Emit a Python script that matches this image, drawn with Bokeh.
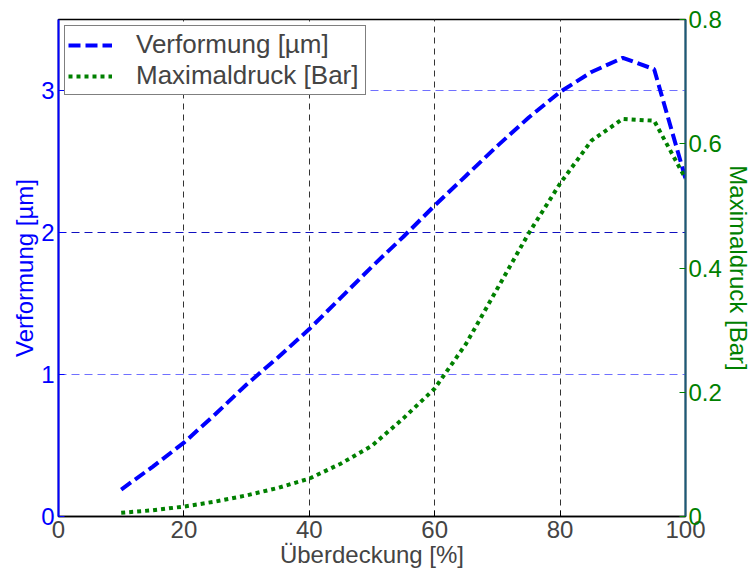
import math
from bokeh.plotting import figure
from bokeh.models import (Range1d, LinearAxis, FixedTicker, Grid, Legend, LegendItem)
from bokeh.embed import file_html
from bokeh.resources import INLINE

# Überdeckung in percent
ueberdeckung = [10, 15, 20, 25, 30, 35, 40, 45, 50, 55, 60, 65, 70, 75, 80, 85, 90, 95, 100]
# deformation in micrometres (left axis)
verformung = [0.19, 0.35, 0.52, 0.72, 0.93, 1.12, 1.32, 1.54, 1.76, 1.97, 2.19,
              2.40, 2.61, 2.81, 2.99, 3.13, 3.23, 3.15, 2.38]
# peak pressure in bar (right axis)
maximaldruck = [0.006, 0.010, 0.016, 0.024, 0.034, 0.046, 0.061, 0.085, 0.114, 0.158,
                0.206, 0.278, 0.367, 0.456, 0.536, 0.605, 0.640, 0.637, 0.544]

x_ticks = [0, 20, 40, 60, 80, 100]
left_ticks = [0, 1, 2, 3]
right_ticks = [0, 0.2, 0.4, 0.6, 0.8]

FONT = "Liberation Sans"
BLUE = "#0000ff"
GREEN = "#008000"

p = figure(width=754, height=573, output_backend="svg", toolbar_location=None,
           x_range=Range1d(0, 100), y_range=Range1d(0, 3.5),
           min_border_left=58, min_border_right=69, min_border_top=19, min_border_bottom=57)
p.extra_y_ranges = {"druck": Range1d(0, 0.8)}
p.outline_line_color = "black"
p.outline_line_width = 1.5
p.background_fill_color = "white"

# grids
p.xgrid.ticker = FixedTicker(ticks=[20, 40, 60, 80])
p.xgrid.grid_line_color = "#333333"
p.xgrid.grid_line_dash = "6 5"
p.xgrid.grid_line_width = 1
p.ygrid.ticker = FixedTicker(ticks=[1, 3])
p.ygrid.grid_line_color = "#7070ff"
p.ygrid.grid_line_dash = "8 5"
p.ygrid.grid_line_width = 1.2
p.add_layout(Grid(dimension=1, ticker=FixedTicker(ticks=[2]), grid_line_color="#1010c0",
                  grid_line_dash="8 5", grid_line_width=1.2))

# bottom axis
xa = p.xaxis[0]
xa.ticker = FixedTicker(ticks=x_ticks)
xa.axis_label = "Überdeckung [%]"
xa.axis_label_text_font = FONT
xa.axis_label_text_font_style = "normal"
xa.axis_label_text_font_size = "24px"
xa.axis_label_standoff = 0
xa.major_label_text_font = FONT
xa.major_label_text_font_size = "24px"
xa.major_label_standoff = 4
xa.major_tick_in = 6
xa.major_tick_out = 0
xa.minor_tick_line_color = None
xa.axis_line_width = 1.5
xa.axis_line_color = "black"
xa.major_tick_line_color = "black"

# left axis
ya = p.yaxis[0]
ya.ticker = FixedTicker(ticks=left_ticks)
ya.axis_label = "Verformung [µm]"
ya.axis_label_text_font = FONT
ya.axis_label_text_font_style = "normal"
ya.axis_label_text_font_size = "24px"
ya.axis_label_text_color = BLUE
ya.axis_label_standoff = 0
ya.major_label_text_font = FONT
ya.major_label_text_font_size = "24px"
ya.major_label_text_color = BLUE
ya.major_label_standoff = 4
ya.major_tick_in = 6
ya.major_tick_out = 0
ya.minor_tick_line_color = None
ya.axis_line_color = BLUE
ya.axis_line_width = 2
ya.major_tick_line_color = BLUE

# right axis, title reading bottom-to-top
yr = LinearAxis(y_range_name="druck", ticker=FixedTicker(ticks=right_ticks),
                axis_label="Maximaldruck [Bar]")
if "axis_label_orientation" in yr.properties():
    yr.axis_label_orientation = "vertical"
yr.axis_label_text_font = FONT
yr.axis_label_text_font_style = "normal"
yr.axis_label_text_font_size = "24px"
yr.axis_label_text_color = GREEN
yr.axis_label_standoff = 0
yr.major_label_text_font = FONT
yr.major_label_text_font_size = "24px"
yr.major_label_text_color = GREEN
yr.major_label_standoff = 3
yr.major_tick_in = 6
yr.major_tick_out = 0
yr.minor_tick_line_color = None
yr.axis_line_color = "#1b5a78"
yr.axis_line_width = 2
yr.major_tick_line_color = GREEN
p.add_layout(yr, "right")

# data lines
r1 = p.line(ueberdeckung, verformung, line_color=BLUE, line_width=4, line_dash="12 5")
r2 = p.line(ueberdeckung, maximaldruck, y_range_name="druck", line_color=GREEN,
            line_width=4, line_dash="4 4")

legend = Legend(items=[LegendItem(label="Verformung [µm]", renderers=[r1]),
                       LegendItem(label="Maximaldruck [Bar]", renderers=[r2])],
                location="top_left")
legend.margin = 6
legend.padding = 3
legend.spacing = 0
legend.glyph_width = 44
legend.glyph_height = 20
legend.label_height = 20
legend.label_standoff = 24
legend.label_width = 226
legend.label_text_font = FONT
legend.label_text_font_size = "26px"
legend.border_line_color = "black"
legend.border_line_width = 1.5
legend.background_fill_color = "white"
legend.background_fill_alpha = 1
p.add_layout(legend)

open("out.html", "w").write(file_html(p, INLINE))
